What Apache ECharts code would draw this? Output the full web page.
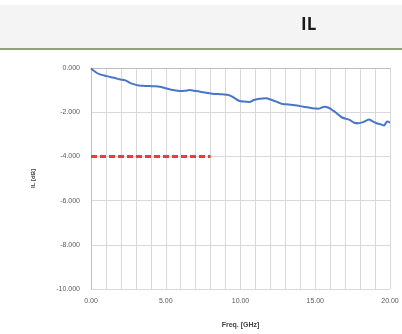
<!DOCTYPE html>
<html>
<head>
<meta charset="utf-8">
<script src="https://cdn.jsdelivr.net/npm/echarts@6/dist/echarts.min.js"></script>
<style>
  html, body { margin: 0; padding: 0; background: #ffffff; }
  #chart { width: 402px; height: 334px; }
</style>
</head>
<body>
<div id="chart"></div>
<script>
// Insertion loss vs frequency
const freqGHz = [0.0, 0.3, 0.6, 1.0, 1.3, 1.6, 1.9, 2.3, 2.6, 2.9, 3.2, 3.6, 3.9, 4.3, 4.6, 5.0, 5.3, 5.6, 5.9, 6.3, 6.6, 6.9, 7.3, 7.7, 8.1, 8.5, 8.8, 9.2, 9.5, 9.9, 10.2, 10.6, 10.9, 11.3, 11.7, 12.1, 12.5, 12.8, 13.2, 13.5, 13.8, 14.2, 14.5, 14.8, 15.2, 15.4, 15.6, 15.9, 16.2, 16.4, 16.8, 17.3, 17.6, 17.9, 18.2, 18.4, 18.6, 18.8, 19.1, 19.4, 19.6, 19.8, 20.0];
const ilDb = [-0.02, -0.18, -0.29, -0.36, -0.41, -0.45, -0.51, -0.56, -0.67, -0.74, -0.79, -0.81, -0.82, -0.83, -0.85, -0.92, -0.97, -1.01, -1.04, -1.03, -1.00, -1.03, -1.07, -1.12, -1.16, -1.18, -1.19, -1.22, -1.32, -1.48, -1.52, -1.54, -1.45, -1.39, -1.37, -1.45, -1.55, -1.63, -1.65, -1.67, -1.70, -1.75, -1.78, -1.82, -1.84, -1.80, -1.75, -1.80, -1.93, -2.03, -2.24, -2.35, -2.48, -2.50, -2.45, -2.38, -2.33, -2.40, -2.50, -2.55, -2.60, -2.42, -2.47];
const limitFreq = [0, 8];
const limitDb = [-4, -4];
const yTicks = [-10, -8, -6, -4, -2, 0];

const chart = echarts.init(document.getElementById('chart'), null, { renderer: 'canvas' });

chart.setOption({
  backgroundColor: '#ffffff',
  animation: false,
  graphic: [
    { type: 'rect', shape: { x: 0, y: 5, width: 402, height: 43 }, style: { fill: '#f4f4f4' }, z: -10 },
    { type: 'rect', shape: { x: 0, y: 48, width: 402, height: 2 }, style: { fill: '#8ea27a' }, z: -9 },
    { type: 'text', left: 301, top: 17, style: { text: 'IL', font: 'bold 17px "Open Sans", "Liberation Sans", sans-serif', fill: '#1a1a1a' } }
  ],
  grid: { left: 91, right: 12, top: 68, bottom: 43, containLabel: false },
  xAxis: {
    type: 'value', min: 0, max: 20, interval: 1,
    name: 'Freq. [GHz]', nameLocation: 'middle', nameGap: 33,
    nameTextStyle: { fontSize: 7, fontWeight: 'bold', color: '#404040', fontFamily: 'Liberation Sans' },
    axisLine: { show: true, lineStyle: { color: '#bfbfbf', width: 1 } },
    axisTick: { show: false },
    axisLabel: {
      fontSize: 7, color: '#595959', fontFamily: 'Liberation Sans', margin: 9,
      formatter: v => (v % 5 === 0 ? v.toFixed(2) : '')
    },
    splitLine: { show: true, lineStyle: { color: '#d9d9d9', width: 1 } }
  },
  yAxis: {
    type: 'value', min: yTicks[0], max: yTicks[yTicks.length - 1], interval: 2,
    name: 'IL [dB]', nameLocation: 'middle', nameGap: 55, nameRotate: 90,
    nameTextStyle: { fontSize: 6, fontWeight: 'bold', color: '#404040', fontFamily: 'Liberation Sans' },
    axisLine: { show: true, lineStyle: { color: '#bfbfbf', width: 1 } },
    axisTick: { show: false },
    axisLabel: { fontSize: 7, color: '#595959', fontFamily: 'Liberation Sans', margin: 11, formatter: v => v.toFixed(3) },
    splitLine: { show: true, lineStyle: { color: '#d9d9d9', width: 1 } }
  },
  series: [
    {
      type: 'line', showSymbol: false, smooth: 0.3,
      data: freqGHz.map((f, i) => [f, ilDb[i]]),
      lineStyle: { color: '#4a76c8', width: 2 }
    },
    {
      type: 'line', showSymbol: false,
      data: limitFreq.map((f, i) => [f, limitDb[i]]),
      lineStyle: { color: '#f03a3a', width: 3, type: [6, 3] }
    }
  ]
});
</script>
</body>
</html>
